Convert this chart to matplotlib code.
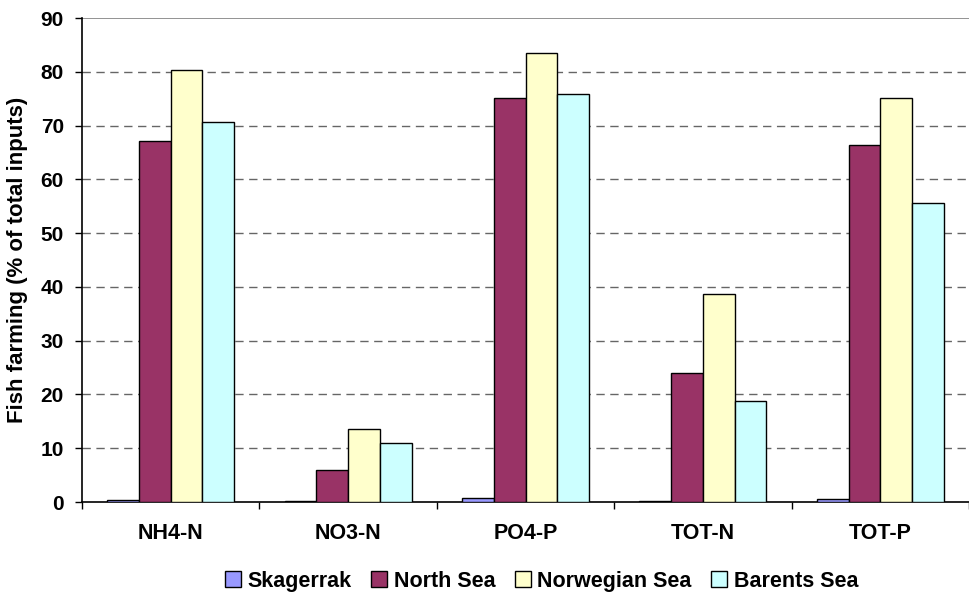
import numpy as np
import matplotlib.pyplot as plt

plt.rcParams['font.family'] = ['Liberation Sans', 'DejaVu Sans']
plt.rcParams['font.weight'] = 'bold'

categories = ['NH4-N', 'NO3-N', 'PO4-P', 'TOT-N', 'TOT-P']
series = ['Skagerrak', 'North Sea', 'Norwegian Sea', 'Barents Sea']
skagerrak = [0.4, 0.1, 0.8, 0.1, 0.5]
north_sea = [67.2, 6.0, 75.2, 24.0, 66.3]
norwegian_sea = [80.3, 13.6, 83.4, 38.7, 75.1]
barents_sea = [70.6, 11.0, 75.8, 18.8, 55.6]
colors = ['#9999FF', '#993366', '#FFFFCC', '#CCFFFF']

values = [skagerrak, north_sea, norwegian_sea, barents_sea]

fig = plt.figure(figsize=(9.69, 5.94), dpi=100)
ax = fig.add_axes([82/969, 1-502/594, 1-82/969, (502-18)/594])

x = np.arange(len(categories))
w = 0.179
for i, (name, vals) in enumerate(zip(series, values)):
    ax.bar(x + (i - 1.5) * w, vals, w, color=colors[i], edgecolor='black',
           linewidth=1.0, label=name, zorder=3)

ax.set_ylim(0, 90)
ax.set_xlim(-0.5, 4.455)
ax.set_yticks(range(0, 91, 10))
ax.set_xticks(x)
ax.set_xticklabels(categories)
ax.set_xticks(np.arange(-0.5, 5, 1), minor=True)
ax.tick_params(axis='x', which='major', length=0, pad=15, labelsize=15.5)
ax.tick_params(axis='x', which='minor', length=5, width=1)
ax.tick_params(axis='y', length=5, width=1, labelsize=15, pad=8)

for yv in range(10, 90, 10):
    ax.axhline(yv, color='#666666', linestyle=(0, (6, 4)), linewidth=1, zorder=1)
ax.axhline(90, color='#808080', linewidth=1.2, zorder=1)

ax.spines['top'].set_visible(False)
ax.spines['right'].set_visible(False)
ax.spines['left'].set_linewidth(1.2)
ax.spines['bottom'].set_linewidth(1.2)

ax.set_ylabel('Fish farming (% of total inputs)', fontsize=16, fontweight='bold', labelpad=9)

ax.legend(loc='lower center', bbox_to_anchor=(0.518, -0.225), ncol=4, frameon=False,
          fontsize=15.5, handlelength=0.75, handleheight=0.75, handletextpad=0.3,
          columnspacing=0.9)

plt.savefig('out.png', dpi=100)
